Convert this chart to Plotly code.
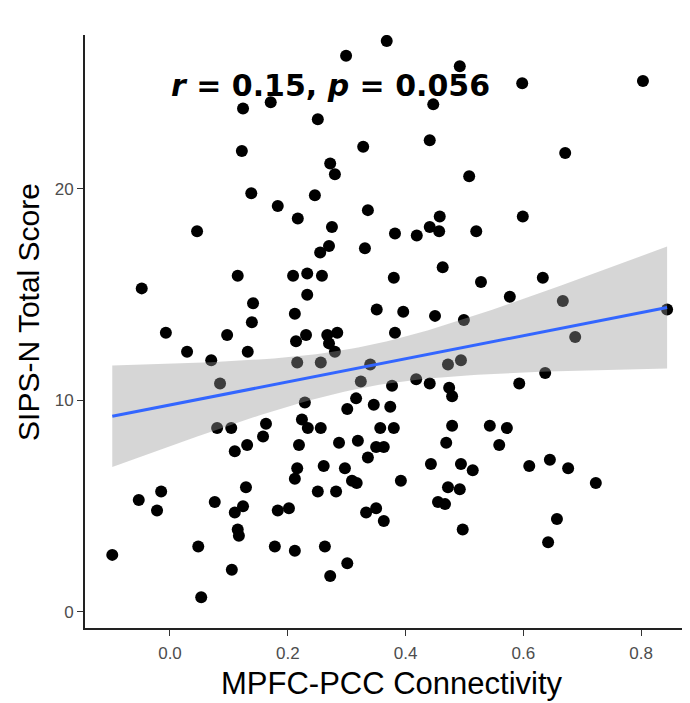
import numpy as np
import plotly.graph_objects as go

# MPFC-PCC connectivity (x) and SIPS-N total score (y)
connectivity = [
    0.368, 0.299, 0.492, 0.598, 0.803, 0.171, 0.124, 0.447, 0.251, 0.441,
    0.328, 0.122, 0.671, 0.272, 0.280, 0.508, 0.138, 0.246, 0.183, 0.336,
    0.599, 0.217, 0.458, 0.275, 0.441, 0.457, 0.520, 0.046, 0.382, 0.419,
    0.270, 0.255, 0.331, 0.463, 0.115, 0.209, 0.233, 0.258, 0.380, 0.633,
    0.528, -0.048, 0.233, 0.577, 0.141, 0.667, 0.212, 0.351, 0.396, 0.450,
    0.844, 0.499, 0.139, -0.007, 0.097, 0.231, 0.214, 0.267, 0.284, 0.270,
    0.280, 0.382, 0.688, 0.029, 0.132, 0.070, 0.216, 0.256, 0.340, 0.472,
    0.494, 0.637, 0.085, 0.324, 0.418, 0.377, 0.441, 0.474, 0.479, 0.593,
    0.316, 0.229, 0.301, 0.346, 0.374, 0.224, 0.234, 0.256, 0.357, 0.380,
    0.479, 0.543, 0.572, 0.080, 0.104, 0.163, 0.158, 0.559, 0.219, 0.287,
    0.319, 0.350, 0.363, 0.336, 0.469, 0.110, 0.131, 0.443, 0.494, 0.514,
    0.610, 0.645, 0.676, 0.723, 0.216, 0.212, 0.261, 0.297, 0.309, 0.317,
    0.392, 0.472, 0.492, 0.129, -0.015, -0.053, -0.022, 0.076, 0.124, 0.110,
    0.251, 0.282, 0.455, 0.467, 0.183, 0.202, 0.333, 0.350, 0.363, 0.657,
    0.115, 0.117, 0.497, 0.642, -0.098, 0.048, 0.178, 0.212, 0.263, 0.105,
    0.301, 0.272, 0.053,
]
sips_total = [
    27.0, 26.3, 25.8, 25.0, 25.1, 24.1, 23.8, 24.0, 23.3, 22.3,
    22.0, 21.8, 21.7, 21.2, 20.7, 20.6, 19.8, 19.7, 19.2, 19.0,
    18.7, 18.6, 18.7, 18.2, 18.2, 18.0, 18.0, 18.0, 17.9, 17.8,
    17.3, 17.0, 17.2, 16.3, 15.9, 15.9, 16.0, 15.9, 15.8, 15.8,
    15.6, 15.3, 15.0, 14.9, 14.6, 14.7, 14.1, 14.3, 14.2, 14.0,
    14.3, 13.8, 13.7, 13.2, 13.1, 13.1, 12.8, 13.1, 13.2, 12.7,
    12.3, 13.2, 13.0, 12.3, 12.3, 11.9, 11.8, 11.8, 11.7, 11.7,
    11.9, 11.3, 10.8, 10.9, 11.0, 10.7, 10.8, 10.6, 10.2, 10.8,
    10.1, 9.9, 9.6, 9.8, 9.7, 9.1, 8.7, 8.7, 8.7, 8.7,
    8.8, 8.8, 8.7, 8.7, 8.7, 8.9, 8.3, 7.9, 7.9, 8.0,
    8.1, 7.8, 7.8, 7.3, 8.0, 7.6, 7.9, 7.0, 7.0, 6.7,
    6.9, 7.2, 6.8, 6.1, 6.8, 6.3, 6.9, 6.8, 6.2, 6.1,
    6.2, 5.9, 5.8, 5.9, 5.7, 5.3, 4.8, 5.2, 5.0, 4.7,
    5.7, 5.7, 5.2, 5.1, 4.8, 4.9, 4.7, 4.9, 4.3, 4.4,
    3.9, 3.6, 3.9, 3.3, 2.7, 3.1, 3.1, 2.9, 3.1, 2.0,
    2.3, 1.7, 0.7,
]

x_ticks = [0.0, 0.2, 0.4, 0.6, 0.8]
y_ticks = [0, 10, 20]
stats_label = "<b><i>r</i> = 0.15, <i>p</i> = 0.056</b>"

# linear fit with 95% confidence band (like geom_smooth(method = "lm"))
x = np.array(connectivity)
y = np.array(sips_total)
n = len(x)
slope, intercept = np.polyfit(x, y, 1)
resid = y - (slope * x + intercept)
s = np.sqrt(np.sum(resid ** 2) / (n - 2))
sxx = np.sum((x - x.mean()) ** 2)
t_crit = 1.976
x_fit = np.linspace(x.min(), x.max(), 80)
y_fit = slope * x_fit + intercept
se = s * np.sqrt(1 / n + (x_fit - x.mean()) ** 2 / sxx)
lo = y_fit - t_crit * se
hi = y_fit + t_crit * se

fig = go.Figure()

fig.add_trace(go.Scatter(x=connectivity, y=sips_total, mode="markers",
                         marker=dict(color="black", size=12), showlegend=False))

# band drawn over the points, as ggplot does
fig.add_trace(go.Scatter(x=np.concatenate([x_fit, x_fit[::-1]]),
                         y=np.concatenate([hi, lo[::-1]]),
                         fill="toself", fillcolor="rgba(153,153,153,0.4)",
                         line=dict(width=0), mode="lines", hoverinfo="skip",
                         showlegend=False))
fig.add_trace(go.Scatter(x=x_fit, y=y_fit, mode="lines",
                         line=dict(color="#3366FF", width=3), showlegend=False))

fig.add_annotation(x=0.273, y=24.9, text=stats_label, showarrow=False,
                   font=dict(family="DejaVu Sans", size=30, color="black"))

title_font = dict(family="Liberation Sans", size=30, color="black")

# axis titles as annotations so they sit where the original has them
fig.add_annotation(x=-0.0926, y=0.533, xref="paper", yref="paper",
                   text="SIPS-N Total Score", textangle=-90, showarrow=False,
                   xanchor="center", yanchor="middle", font=title_font)
fig.add_annotation(x=0.507, y=-0.093, xref="paper", yref="paper",
                   text="MPFC-PCC Connectivity", showarrow=False,
                   xanchor="center", yanchor="middle",
                   font=dict(family="Liberation Sans", size=31, color="black"))

axis_font = dict(family="Liberation Sans", size=17, color="#4D4D4D")
fig.update_layout(
    width=690, height=703,
    margin=dict(l=77, r=8, t=27, b=83),
    plot_bgcolor="white", paper_bgcolor="white",
    xaxis=dict(range=[-0.1443, 0.8829], tickvals=x_ticks,
               ticktext=[f"{v:.1f}" for v in x_ticks], automargin=False,
               showgrid=False, zeroline=False, showline=True,
               linecolor="#222", linewidth=2, ticks="outside", ticklen=6,
               tickcolor="#333", tickfont=axis_font, ticklabelstandoff=3),
    yaxis=dict(range=[-0.757, 27.28], tickvals=y_ticks, automargin=False,
               showgrid=False, zeroline=False, showline=True,
               linecolor="#222", linewidth=2, ticks="outside", ticklen=6,
               tickcolor="#333", tickfont=axis_font),
)

fig.write_html("out.html")
